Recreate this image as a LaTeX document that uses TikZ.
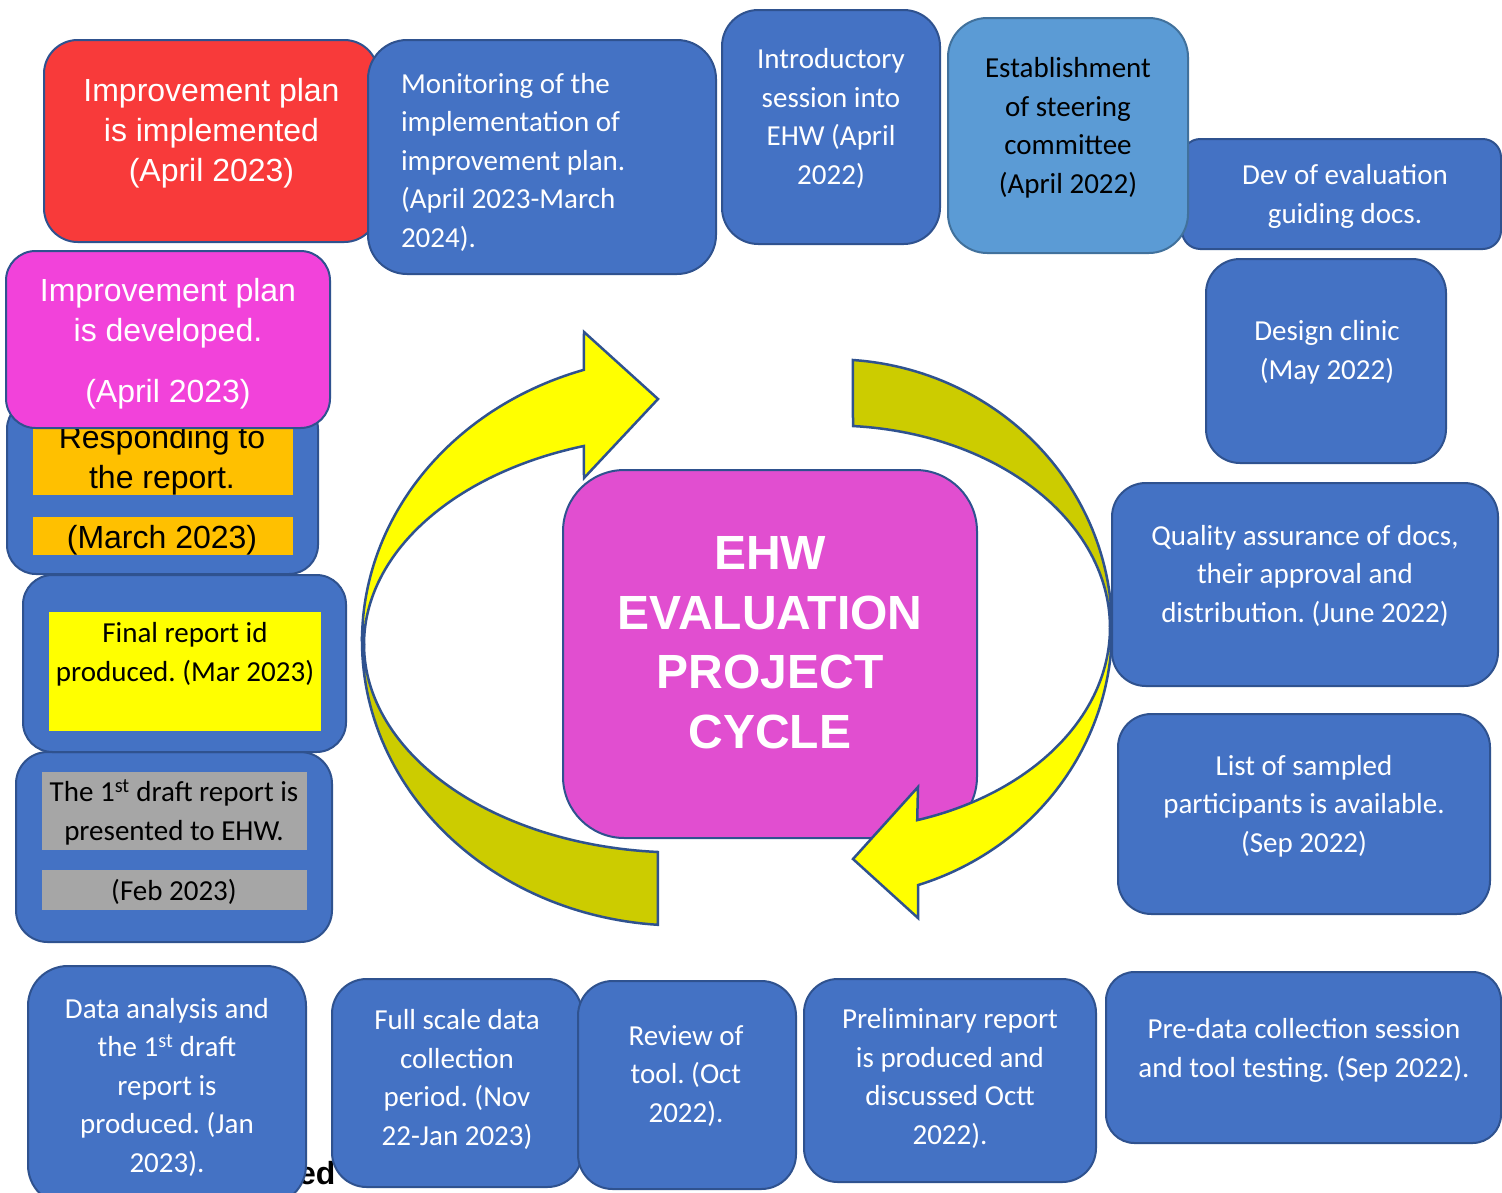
\documentclass[tikz,border=0pt]{standalone}
\usepackage{fontspec}
\setmainfont{Carlito}
\newfontfamily\arialf{Liberation Sans}
\definecolor{boxblue}{HTML}{4472C4}
\definecolor{boxedge}{HTML}{2F528F}
\definecolor{lightblue}{HTML}{5B9BD5}
\definecolor{lightedge}{HTML}{41719C}
\definecolor{redfill}{HTML}{F83A3A}
\definecolor{pinkfill}{HTML}{F242DA}
\definecolor{centerfill}{HTML}{E14ED0}
\definecolor{orangehl}{HTML}{FFC000}
\definecolor{greyhl}{HTML}{A6A6A6}
\definecolor{olivefill}{HTML}{CCCC00}
\definecolor{yellowfill}{HTML}{FFFF00}
\newcommand\calf{\fontsize{29}{38.6}\selectfont}
\newcommand\arl{\arialf\fontsize{32}{40}\selectfont}
\newcommand\arb{\arialf\bfseries\fontsize{48}{59.5}\selectfont}
\newcommand\rbox[6]{%
  \node[#6, minimum width={(#4)-(#2)}, minimum height={(#5)-(#3)},
        rounded corners={0.1667*min((#4)-(#2),(#5)-(#3))}]
        (#1) at ({((#2)+(#4))/2},{((#3)+(#5))/2}) {};}
\newcommand\hlbox[6]{%
  \node[fill=#6, minimum width={(#4)-(#2)}, minimum height={(#5)-(#3)},
        inner sep=0pt, outer sep=0pt]
        (#1) at ({((#2)+(#4))/2},{((#3)+(#5))/2}) {};}
\tikzset{
  bluebox/.style={draw=boxedge, line width=2pt, fill=boxblue, inner sep=0pt, outer sep=0pt},
  txt/.style={inner sep=0pt, outer sep=0pt, anchor=base, align=center, text=white, font=\calf},
  arrowline/.style={draw=boxedge, line width=2.5pt, line join=miter}
}
\begin{document}
\frenchspacing
\begin{tikzpicture}[x=1pt,y=-1pt]
\useasboundingbox (0,0) rectangle (1502,1192);
\clip (0,0) rectangle (1502,1192);
\fill[white] (0,0) rectangle (1502,1192);

% fragment of text behind the boxes
\node[anchor=base west, inner sep=0pt, font=\arialf\bfseries\fontsize{32}{38}\selectfont] (frag) at (298,1184) {ed};

% centre box
\rbox{cyc}{563}{470}{977}{838}{bluebox, fill=centerfill}
\node[txt, font=\arb] (cyct) at (770,748) {EHW\\EVALUATION\\PROJECT\\CYCLE};

% left curved arrow
\filldraw[arrowline, fill=olivefill]
  plot[domain=180:94, samples=60] ({680+318*cos(\x)},{641+284.5*sin(\x)})
  -- plot[domain=94:180, samples=60] ({680+316*cos(\x)},{644.3+208.2*sin(\x)}) -- cycle;
\filldraw[arrowline, fill=yellowfill]
  plot[domain=252.4:180, samples=60] ({680+318*cos(\x)},{641+284.5*sin(\x)})
  -- plot[domain=180:252.3, samples=60] ({680+316*cos(\x)},{644.3+208.2*sin(\x)})
  -- (584,478) -- (658,399) -- (584,332) -- cycle;

% right curved arrow
\filldraw[arrowline, fill=olivefill]
  plot[domain=-85.9:0, samples=60] ({833+279*cos(\x)},{628.6+269.3*sin(\x)})
  -- plot[domain=0:-85.86, samples=60] ({833+277*cos(\x)},{627.6+202.1*sin(\x)}) -- cycle;
\filldraw[arrowline, fill=yellowfill]
  plot[domain=0:72.26, samples=60] ({833+279*cos(\x)},{628.6+269.3*sin(\x)})
  -- (918,918) -- (853,859) -- (918,787)
  -- plot[domain=72.3:0, samples=60] ({833+277*cos(\x)},{627.6+202.1*sin(\x)}) -- cycle;

% top row
\rbox{b1}{44}{40}{378}{242}{bluebox, fill=redfill}
\node[txt, font=\arl] (t1) at (211.5,181.5) {Improvement plan\\is implemented\\(April 2023)};
\rbox{b2}{368}{40}{716}{274}{bluebox}
\node[txt, anchor=base west, align=left] (t2) at (401,247.5) {Monitoring of the\\implementation of\\improvement plan.\\(April 2023-March\\2024).};
\rbox{b3}{722}{10}{940}{244}{bluebox}
\node[txt] (t3) at (831,184.5) {Introductory\\session into\\EHW (April\\2022)};
\rbox{b5}{1182}{139}{1501}{249}{bluebox}
\node[txt] (t5) at (1345,223.5) {Dev of evaluation\\guiding docs.};
\rbox{b4}{948}{18}{1188}{253}{bluebox, fill=lightblue, draw=lightedge}
\node[txt, text=black] (t4) at (1068,193.5) {Establishment\\of steering\\committee\\(April 2022)};

% right column
\rbox{b6}{1206}{259}{1446}{463}{bluebox}
\node[txt] (t6) at (1327,379.5) {Design clinic\\(May 2022)};
\rbox{b7}{1112}{483}{1498}{686}{bluebox}
\node[txt] (t7) at (1305,622.5) {Quality assurance of docs,\\their approval and\\distribution. (June 2022)};
\rbox{b8}{1118}{714}{1490}{914}{bluebox}
\node[txt] (t8) at (1304,852.5) {List of sampled\\participants is available.\\(Sep 2022)};
\rbox{b9}{1106}{972}{1501}{1143}{bluebox}
\node[txt] (t9) at (1304,1077.5) {Pre-data collection session\\and tool testing. (Sep 2022).};

% bottom row
\rbox{b10}{804}{979}{1096}{1182}{bluebox}
\node[txt] (t10) at (950,1144.5) {Preliminary report\\is produced and\\discussed Octt\\2022).};
\rbox{b12}{332}{979}{582}{1187}{bluebox}
\node[txt] (t12) at (457,1145.5) {Full scale data\\collection\\period. (Nov\\22-Jan 2023)};
\rbox{b11}{578}{981}{796}{1189}{bluebox}
\node[txt] (t11) at (686,1122.5) {Review of\\tool. (Oct\\2022).};
\rbox{b13}{28}{966}{306}{1205}{bluebox}
\node[txt] (t13) at (167,1172.5) {Data analysis and\\the 1\textsuperscript{st} draft\\report is\\produced. (Jan\\2023).};

% left column
\rbox{b14}{16}{752}{332}{942}{bluebox}
\hlbox{h14a}{42}{772}{307}{850}{greyhl}
\hlbox{h14b}{42}{870}{307}{910}{greyhl}
\node[txt, text=black] (t14) at (174,900) {The 1\textsuperscript{st} draft report is\\presented to EHW.\\[21.4pt](Feb 2023)};
\rbox{b15}{23}{575}{346}{752}{bluebox}
\hlbox{h15}{49}{612}{321}{731}{yellowfill}
\node[txt, text=black] (t15) at (185,681.5) {Final report id\\produced. (Mar 2023)};
\rbox{b16}{7}{400}{318}{574}{bluebox}
\hlbox{h16a}{33}{418}{293}{495}{orangehl}
\hlbox{h16b}{33}{517}{293}{555}{orangehl}
\node[txt, text=black, font=\arl] (t16) at (162,548.5) {Responding to\\the report.\\[20pt](March 2023)};
\rbox{b17}{6}{251}{330}{428}{bluebox, fill=pinkfill}
\node[txt, font=\arl] (t17) at (168,402.5) {Improvement plan\\is developed.\\[21pt](April 2023)};
\end{tikzpicture}
\end{document}
